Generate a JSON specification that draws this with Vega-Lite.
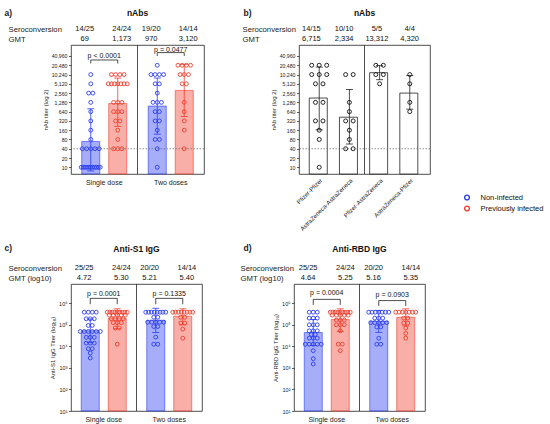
{
  "$schema": "https://vega.github.io/schema/vega-lite/v6.json",
  "padding": {"left": 4, "top": 8, "right": 2, "bottom": 2},
  "datasets": {
    "a_hdr": [
      {"d": "Single dose", "i": "Non-infected", "r": "Seroconversion", "t": "14/25"},
      {"d": "Single dose", "i": "Previously infected", "r": "Seroconversion", "t": "24/24"},
      {"d": "Two doses", "i": "Non-infected", "r": "Seroconversion", "t": "19/20"},
      {"d": "Two doses", "i": "Previously infected", "r": "Seroconversion", "t": "14/14"},
      {"d": "Single dose", "i": "Non-infected", "r": "GMT", "t": "69"},
      {"d": "Single dose", "i": "Previously infected", "r": "GMT", "t": "1,173"},
      {"d": "Two doses", "i": "Non-infected", "r": "GMT", "t": "970"},
      {"d": "Two doses", "i": "Previously infected", "r": "GMT", "t": "3,120"}
    ],
    "a_bar": [
      {"d": "Single dose", "i": "Non-infected", "gmt": 69, "lo": 7.6, "hi": 790},
      {"d": "Single dose", "i": "Previously infected", "gmt": 1173, "lo": 214, "hi": 7880},
      {"d": "Two doses", "i": "Non-infected", "gmt": 970, "lo": 119, "hi": 7900},
      {"d": "Two doses", "i": "Previously infected", "gmt": 3120, "lo": 443, "hi": 22000}
    ],
    "a_p": [
      {"d": "Single dose", "top": 30400, "leg": 23400, "txt": 40960, "p": "p < 0.0001"},
      {"d": "Two doses", "top": 52500, "leg": 40960, "txt": 66500, "p": "p = 0.0477"}
    ],
    "a_pts": [
      {"d": "Single dose", "i": "Non-infected", "v": 10240},
      {"d": "Single dose", "i": "Non-infected", "v": 5120},
      {"d": "Single dose", "i": "Non-infected", "v": 2560},
      {"d": "Single dose", "i": "Non-infected", "v": 2560},
      {"d": "Single dose", "i": "Non-infected", "v": 1280},
      {"d": "Single dose", "i": "Non-infected", "v": 640},
      {"d": "Single dose", "i": "Non-infected", "v": 320},
      {"d": "Single dose", "i": "Non-infected", "v": 160},
      {"d": "Single dose", "i": "Non-infected", "v": 80},
      {"d": "Single dose", "i": "Non-infected", "v": 40},
      {"d": "Single dose", "i": "Non-infected", "v": 40},
      {"d": "Single dose", "i": "Non-infected", "v": 40},
      {"d": "Single dose", "i": "Non-infected", "v": 40},
      {"d": "Single dose", "i": "Non-infected", "v": 40},
      {"d": "Single dose", "i": "Non-infected", "v": 10},
      {"d": "Single dose", "i": "Non-infected", "v": 10},
      {"d": "Single dose", "i": "Non-infected", "v": 10},
      {"d": "Single dose", "i": "Non-infected", "v": 10},
      {"d": "Single dose", "i": "Non-infected", "v": 10},
      {"d": "Single dose", "i": "Non-infected", "v": 10},
      {"d": "Single dose", "i": "Non-infected", "v": 10},
      {"d": "Single dose", "i": "Non-infected", "v": 10},
      {"d": "Single dose", "i": "Non-infected", "v": 10},
      {"d": "Single dose", "i": "Non-infected", "v": 10},
      {"d": "Single dose", "i": "Non-infected", "v": 10},
      {"d": "Single dose", "i": "Previously infected", "v": 10240},
      {"d": "Single dose", "i": "Previously infected", "v": 10240},
      {"d": "Single dose", "i": "Previously infected", "v": 10240},
      {"d": "Single dose", "i": "Previously infected", "v": 10240},
      {"d": "Single dose", "i": "Previously infected", "v": 5120},
      {"d": "Single dose", "i": "Previously infected", "v": 5120},
      {"d": "Single dose", "i": "Previously infected", "v": 5120},
      {"d": "Single dose", "i": "Previously infected", "v": 5120},
      {"d": "Single dose", "i": "Previously infected", "v": 5120},
      {"d": "Single dose", "i": "Previously infected", "v": 5120},
      {"d": "Single dose", "i": "Previously infected", "v": 5120},
      {"d": "Single dose", "i": "Previously infected", "v": 1280},
      {"d": "Single dose", "i": "Previously infected", "v": 1280},
      {"d": "Single dose", "i": "Previously infected", "v": 1280},
      {"d": "Single dose", "i": "Previously infected", "v": 640},
      {"d": "Single dose", "i": "Previously infected", "v": 640},
      {"d": "Single dose", "i": "Previously infected", "v": 640},
      {"d": "Single dose", "i": "Previously infected", "v": 320},
      {"d": "Single dose", "i": "Previously infected", "v": 320},
      {"d": "Single dose", "i": "Previously infected", "v": 160},
      {"d": "Single dose", "i": "Previously infected", "v": 80},
      {"d": "Single dose", "i": "Previously infected", "v": 40},
      {"d": "Single dose", "i": "Previously infected", "v": 40},
      {"d": "Single dose", "i": "Previously infected", "v": 40},
      {"d": "Two doses", "i": "Non-infected", "v": 20480},
      {"d": "Two doses", "i": "Non-infected", "v": 10240},
      {"d": "Two doses", "i": "Non-infected", "v": 10240},
      {"d": "Two doses", "i": "Non-infected", "v": 10240},
      {"d": "Two doses", "i": "Non-infected", "v": 10240},
      {"d": "Two doses", "i": "Non-infected", "v": 5120},
      {"d": "Two doses", "i": "Non-infected", "v": 5120},
      {"d": "Two doses", "i": "Non-infected", "v": 2560},
      {"d": "Two doses", "i": "Non-infected", "v": 1280},
      {"d": "Two doses", "i": "Non-infected", "v": 1280},
      {"d": "Two doses", "i": "Non-infected", "v": 1280},
      {"d": "Two doses", "i": "Non-infected", "v": 640},
      {"d": "Two doses", "i": "Non-infected", "v": 640},
      {"d": "Two doses", "i": "Non-infected", "v": 320},
      {"d": "Two doses", "i": "Non-infected", "v": 320},
      {"d": "Two doses", "i": "Non-infected", "v": 160},
      {"d": "Two doses", "i": "Non-infected", "v": 80},
      {"d": "Two doses", "i": "Non-infected", "v": 80},
      {"d": "Two doses", "i": "Non-infected", "v": 40},
      {"d": "Two doses", "i": "Non-infected", "v": 10},
      {"d": "Two doses", "i": "Previously infected", "v": 20480},
      {"d": "Two doses", "i": "Previously infected", "v": 20480},
      {"d": "Two doses", "i": "Previously infected", "v": 20480},
      {"d": "Two doses", "i": "Previously infected", "v": 20480},
      {"d": "Two doses", "i": "Previously infected", "v": 10240},
      {"d": "Two doses", "i": "Previously infected", "v": 10240},
      {"d": "Two doses", "i": "Previously infected", "v": 10240},
      {"d": "Two doses", "i": "Previously infected", "v": 5120},
      {"d": "Two doses", "i": "Previously infected", "v": 5120},
      {"d": "Two doses", "i": "Previously infected", "v": 1280},
      {"d": "Two doses", "i": "Previously infected", "v": 640},
      {"d": "Two doses", "i": "Previously infected", "v": 320},
      {"d": "Two doses", "i": "Previously infected", "v": 160},
      {"d": "Two doses", "i": "Previously infected", "v": 40}
    ],
    "b_hdr": [
      {"g": "Pfizer-Pfizer", "r": "Seroconversion", "t": "14/15"},
      {"g": "AstraZeneca-AstraZeneca", "r": "Seroconversion", "t": "10/10"},
      {"g": "Pfizer-AstraZeneca", "r": "Seroconversion", "t": "5/5"},
      {"g": "AstraZeneca-Pfizer", "r": "Seroconversion", "t": "4/4"},
      {"g": "Pfizer-Pfizer", "r": "GMT", "t": "6,715"},
      {"g": "AstraZeneca-AstraZeneca", "r": "GMT", "t": "2,334"},
      {"g": "Pfizer-AstraZeneca", "r": "GMT", "t": "13,312"},
      {"g": "AstraZeneca-Pfizer", "r": "GMT", "t": "4,320"}
    ],
    "b_bar": [
      {"g": "Pfizer-Pfizer", "gmt": 1770, "lo": 164, "hi": 17960},
      {"g": "AstraZeneca-AstraZeneca", "gmt": 422, "lo": 57, "hi": 3350},
      {"g": "Pfizer-AstraZeneca", "gmt": 11760, "lo": 6950, "hi": 19900},
      {"g": "AstraZeneca-Pfizer", "gmt": 2560, "lo": 772, "hi": 9560}
    ],
    "b_pts": [
      {"g": "Pfizer-Pfizer", "v": 20480},
      {"g": "Pfizer-Pfizer", "v": 20480},
      {"g": "Pfizer-Pfizer", "v": 20480},
      {"g": "Pfizer-Pfizer", "v": 10240},
      {"g": "Pfizer-Pfizer", "v": 10240},
      {"g": "Pfizer-Pfizer", "v": 10240},
      {"g": "Pfizer-Pfizer", "v": 5120},
      {"g": "Pfizer-Pfizer", "v": 5120},
      {"g": "Pfizer-Pfizer", "v": 1280},
      {"g": "Pfizer-Pfizer", "v": 1280},
      {"g": "Pfizer-Pfizer", "v": 320},
      {"g": "Pfizer-Pfizer", "v": 320},
      {"g": "Pfizer-Pfizer", "v": 160},
      {"g": "Pfizer-Pfizer", "v": 80},
      {"g": "Pfizer-Pfizer", "v": 10},
      {"g": "AstraZeneca-AstraZeneca", "v": 10240},
      {"g": "AstraZeneca-AstraZeneca", "v": 10240},
      {"g": "AstraZeneca-AstraZeneca", "v": 1280},
      {"g": "AstraZeneca-AstraZeneca", "v": 640},
      {"g": "AstraZeneca-AstraZeneca", "v": 320},
      {"g": "AstraZeneca-AstraZeneca", "v": 320},
      {"g": "AstraZeneca-AstraZeneca", "v": 160},
      {"g": "AstraZeneca-AstraZeneca", "v": 80},
      {"g": "AstraZeneca-AstraZeneca", "v": 40},
      {"g": "AstraZeneca-AstraZeneca", "v": 40},
      {"g": "Pfizer-AstraZeneca", "v": 20480},
      {"g": "Pfizer-AstraZeneca", "v": 20480},
      {"g": "Pfizer-AstraZeneca", "v": 10240},
      {"g": "Pfizer-AstraZeneca", "v": 10240},
      {"g": "Pfizer-AstraZeneca", "v": 5120},
      {"g": "AstraZeneca-Pfizer", "v": 10240},
      {"g": "AstraZeneca-Pfizer", "v": 5120},
      {"g": "AstraZeneca-Pfizer", "v": 1280},
      {"g": "AstraZeneca-Pfizer", "v": 640}
    ],
    "c_hdr": [
      {"d": "Single dose", "i": "Non-infected", "r": "Seroconversion", "t": "25/25"},
      {"d": "Single dose", "i": "Previously infected", "r": "Seroconversion", "t": "24/24"},
      {"d": "Two doses", "i": "Non-infected", "r": "Seroconversion", "t": "20/20"},
      {"d": "Two doses", "i": "Previously infected", "r": "Seroconversion", "t": "14/14"},
      {"d": "Single dose", "i": "Non-infected", "r": "GMT (log10)", "t": "4.72"},
      {"d": "Single dose", "i": "Previously infected", "r": "GMT (log10)", "t": "5.30"},
      {"d": "Two doses", "i": "Non-infected", "r": "GMT (log10)", "t": "5.21"},
      {"d": "Two doses", "i": "Previously infected", "r": "GMT (log10)", "t": "5.40"}
    ],
    "c_bar": [
      {"d": "Single dose", "i": "Non-infected", "gmt": 52500, "lo": 14800, "hi": 186000},
      {"d": "Single dose", "i": "Previously infected", "gmt": 199500, "lo": 66100, "hi": 550000},
      {"d": "Two doses", "i": "Non-infected", "gmt": 162200, "lo": 44300, "hi": 589000},
      {"d": "Two doses", "i": "Previously infected", "gmt": 251200, "lo": 100000, "hi": 550000}
    ],
    "c_p": [
      {"d": "Single dose", "top": 1700000, "leg": 900000, "txt": 2610000, "p": "p = 0.0001"},
      {"d": "Two doses", "top": 1700000, "leg": 900000, "txt": 2610000, "p": "p = 0.1335"}
    ],
    "c_pts": [
      {"d": "Single dose", "i": "Non-infected", "v": 385000},
      {"d": "Single dose", "i": "Non-infected", "v": 385000},
      {"d": "Single dose", "i": "Non-infected", "v": 385000},
      {"d": "Single dose", "i": "Non-infected", "v": 385000},
      {"d": "Single dose", "i": "Non-infected", "v": 190500},
      {"d": "Single dose", "i": "Non-infected", "v": 190500},
      {"d": "Single dose", "i": "Non-infected", "v": 190500},
      {"d": "Single dose", "i": "Non-infected", "v": 93300},
      {"d": "Single dose", "i": "Non-infected", "v": 93300},
      {"d": "Single dose", "i": "Non-infected", "v": 49000},
      {"d": "Single dose", "i": "Non-infected", "v": 49000},
      {"d": "Single dose", "i": "Non-infected", "v": 49000},
      {"d": "Single dose", "i": "Non-infected", "v": 49000},
      {"d": "Single dose", "i": "Non-infected", "v": 49000},
      {"d": "Single dose", "i": "Non-infected", "v": 49000},
      {"d": "Single dose", "i": "Non-infected", "v": 26300},
      {"d": "Single dose", "i": "Non-infected", "v": 26300},
      {"d": "Single dose", "i": "Non-infected", "v": 26300},
      {"d": "Single dose", "i": "Non-infected", "v": 14100},
      {"d": "Single dose", "i": "Non-infected", "v": 14100},
      {"d": "Single dose", "i": "Non-infected", "v": 14100},
      {"d": "Single dose", "i": "Non-infected", "v": 7760},
      {"d": "Single dose", "i": "Non-infected", "v": 7760},
      {"d": "Single dose", "i": "Non-infected", "v": 4900},
      {"d": "Single dose", "i": "Non-infected", "v": 2880},
      {"d": "Single dose", "i": "Previously infected", "v": 385000},
      {"d": "Single dose", "i": "Previously infected", "v": 385000},
      {"d": "Single dose", "i": "Previously infected", "v": 385000},
      {"d": "Single dose", "i": "Previously infected", "v": 385000},
      {"d": "Single dose", "i": "Previously infected", "v": 385000},
      {"d": "Single dose", "i": "Previously infected", "v": 385000},
      {"d": "Single dose", "i": "Previously infected", "v": 385000},
      {"d": "Single dose", "i": "Previously infected", "v": 385000},
      {"d": "Single dose", "i": "Previously infected", "v": 385000},
      {"d": "Single dose", "i": "Previously infected", "v": 281800},
      {"d": "Single dose", "i": "Previously infected", "v": 281800},
      {"d": "Single dose", "i": "Previously infected", "v": 281800},
      {"d": "Single dose", "i": "Previously infected", "v": 281800},
      {"d": "Single dose", "i": "Previously infected", "v": 281800},
      {"d": "Single dose", "i": "Previously infected", "v": 190500},
      {"d": "Single dose", "i": "Previously infected", "v": 190500},
      {"d": "Single dose", "i": "Previously infected", "v": 190500},
      {"d": "Single dose", "i": "Previously infected", "v": 190500},
      {"d": "Single dose", "i": "Previously infected", "v": 125900},
      {"d": "Single dose", "i": "Previously infected", "v": 125900},
      {"d": "Single dose", "i": "Previously infected", "v": 125900},
      {"d": "Single dose", "i": "Previously infected", "v": 70800},
      {"d": "Single dose", "i": "Previously infected", "v": 70800},
      {"d": "Single dose", "i": "Previously infected", "v": 12600},
      {"d": "Two doses", "i": "Non-infected", "v": 385000},
      {"d": "Two doses", "i": "Non-infected", "v": 385000},
      {"d": "Two doses", "i": "Non-infected", "v": 385000},
      {"d": "Two doses", "i": "Non-infected", "v": 385000},
      {"d": "Two doses", "i": "Non-infected", "v": 385000},
      {"d": "Two doses", "i": "Non-infected", "v": 385000},
      {"d": "Two doses", "i": "Non-infected", "v": 385000},
      {"d": "Two doses", "i": "Non-infected", "v": 385000},
      {"d": "Two doses", "i": "Non-infected", "v": 223900},
      {"d": "Two doses", "i": "Non-infected", "v": 223900},
      {"d": "Two doses", "i": "Non-infected", "v": 131800},
      {"d": "Two doses", "i": "Non-infected", "v": 131800},
      {"d": "Two doses", "i": "Non-infected", "v": 131800},
      {"d": "Two doses", "i": "Non-infected", "v": 131800},
      {"d": "Two doses", "i": "Non-infected", "v": 131800},
      {"d": "Two doses", "i": "Non-infected", "v": 83200},
      {"d": "Two doses", "i": "Non-infected", "v": 83200},
      {"d": "Two doses", "i": "Non-infected", "v": 26900},
      {"d": "Two doses", "i": "Non-infected", "v": 12600},
      {"d": "Two doses", "i": "Non-infected", "v": 12600},
      {"d": "Two doses", "i": "Previously infected", "v": 385000},
      {"d": "Two doses", "i": "Previously infected", "v": 385000},
      {"d": "Two doses", "i": "Previously infected", "v": 385000},
      {"d": "Two doses", "i": "Previously infected", "v": 385000},
      {"d": "Two doses", "i": "Previously infected", "v": 385000},
      {"d": "Two doses", "i": "Previously infected", "v": 385000},
      {"d": "Two doses", "i": "Previously infected", "v": 385000},
      {"d": "Two doses", "i": "Previously infected", "v": 385000},
      {"d": "Two doses", "i": "Previously infected", "v": 223900},
      {"d": "Two doses", "i": "Previously infected", "v": 223900},
      {"d": "Two doses", "i": "Previously infected", "v": 120200},
      {"d": "Two doses", "i": "Previously infected", "v": 120200},
      {"d": "Two doses", "i": "Previously infected", "v": 63100},
      {"d": "Two doses", "i": "Previously infected", "v": 24000}
    ],
    "d_hdr": [
      {"d": "Single dose", "i": "Non-infected", "r": "Seroconversion", "t": "25/25"},
      {"d": "Single dose", "i": "Previously infected", "r": "Seroconversion", "t": "24/24"},
      {"d": "Two doses", "i": "Non-infected", "r": "Seroconversion", "t": "20/20"},
      {"d": "Two doses", "i": "Previously infected", "r": "Seroconversion", "t": "14/14"},
      {"d": "Single dose", "i": "Non-infected", "r": "GMT (log10)", "t": "4.64"},
      {"d": "Single dose", "i": "Previously infected", "r": "GMT (log10)", "t": "5.25"},
      {"d": "Two doses", "i": "Non-infected", "r": "GMT (log10)", "t": "5.16"},
      {"d": "Two doses", "i": "Previously infected", "r": "GMT (log10)", "t": "5.35"}
    ],
    "d_bar": [
      {"d": "Single dose", "i": "Non-infected", "gmt": 43650, "lo": 11000, "hi": 174000},
      {"d": "Single dose", "i": "Previously infected", "gmt": 177800, "lo": 49000, "hi": 550000},
      {"d": "Two doses", "i": "Non-infected", "gmt": 144500, "lo": 44700, "hi": 468000},
      {"d": "Two doses", "i": "Previously infected", "gmt": 223900, "lo": 89000, "hi": 550000}
    ],
    "d_p": [
      {"d": "Single dose", "top": 1530000, "leg": 834000, "txt": 2900000, "p": "p = 0.0004"},
      {"d": "Two doses", "top": 1320000, "leg": 750000, "txt": 2420000, "p": "p = 0.0903"}
    ],
    "d_pts": [
      {"d": "Single dose", "i": "Non-infected", "v": 385000},
      {"d": "Single dose", "i": "Non-infected", "v": 385000},
      {"d": "Single dose", "i": "Non-infected", "v": 385000},
      {"d": "Single dose", "i": "Non-infected", "v": 204200},
      {"d": "Single dose", "i": "Non-infected", "v": 204200},
      {"d": "Single dose", "i": "Non-infected", "v": 204200},
      {"d": "Single dose", "i": "Non-infected", "v": 100000},
      {"d": "Single dose", "i": "Non-infected", "v": 100000},
      {"d": "Single dose", "i": "Non-infected", "v": 100000},
      {"d": "Single dose", "i": "Non-infected", "v": 52500},
      {"d": "Single dose", "i": "Non-infected", "v": 52500},
      {"d": "Single dose", "i": "Non-infected", "v": 52500},
      {"d": "Single dose", "i": "Non-infected", "v": 35500},
      {"d": "Single dose", "i": "Non-infected", "v": 35500},
      {"d": "Single dose", "i": "Non-infected", "v": 24000},
      {"d": "Single dose", "i": "Non-infected", "v": 24000},
      {"d": "Single dose", "i": "Non-infected", "v": 24000},
      {"d": "Single dose", "i": "Non-infected", "v": 12600},
      {"d": "Single dose", "i": "Non-infected", "v": 12600},
      {"d": "Single dose", "i": "Non-infected", "v": 12600},
      {"d": "Single dose", "i": "Non-infected", "v": 12600},
      {"d": "Single dose", "i": "Non-infected", "v": 12600},
      {"d": "Single dose", "i": "Non-infected", "v": 6310},
      {"d": "Single dose", "i": "Non-infected", "v": 2690},
      {"d": "Single dose", "i": "Non-infected", "v": 1510},
      {"d": "Single dose", "i": "Previously infected", "v": 385000},
      {"d": "Single dose", "i": "Previously infected", "v": 385000},
      {"d": "Single dose", "i": "Previously infected", "v": 385000},
      {"d": "Single dose", "i": "Previously infected", "v": 385000},
      {"d": "Single dose", "i": "Previously infected", "v": 385000},
      {"d": "Single dose", "i": "Previously infected", "v": 385000},
      {"d": "Single dose", "i": "Previously infected", "v": 385000},
      {"d": "Single dose", "i": "Previously infected", "v": 385000},
      {"d": "Single dose", "i": "Previously infected", "v": 385000},
      {"d": "Single dose", "i": "Previously infected", "v": 281800},
      {"d": "Single dose", "i": "Previously infected", "v": 281800},
      {"d": "Single dose", "i": "Previously infected", "v": 281800},
      {"d": "Single dose", "i": "Previously infected", "v": 281800},
      {"d": "Single dose", "i": "Previously infected", "v": 281800},
      {"d": "Single dose", "i": "Previously infected", "v": 166000},
      {"d": "Single dose", "i": "Previously infected", "v": 166000},
      {"d": "Single dose", "i": "Previously infected", "v": 166000},
      {"d": "Single dose", "i": "Previously infected", "v": 100000},
      {"d": "Single dose", "i": "Previously infected", "v": 100000},
      {"d": "Single dose", "i": "Previously infected", "v": 100000},
      {"d": "Single dose", "i": "Previously infected", "v": 52500},
      {"d": "Single dose", "i": "Previously infected", "v": 12600},
      {"d": "Single dose", "i": "Previously infected", "v": 12600},
      {"d": "Single dose", "i": "Previously infected", "v": 6310},
      {"d": "Two doses", "i": "Non-infected", "v": 385000},
      {"d": "Two doses", "i": "Non-infected", "v": 385000},
      {"d": "Two doses", "i": "Non-infected", "v": 385000},
      {"d": "Two doses", "i": "Non-infected", "v": 385000},
      {"d": "Two doses", "i": "Non-infected", "v": 385000},
      {"d": "Two doses", "i": "Non-infected", "v": 385000},
      {"d": "Two doses", "i": "Non-infected", "v": 385000},
      {"d": "Two doses", "i": "Non-infected", "v": 204200},
      {"d": "Two doses", "i": "Non-infected", "v": 204200},
      {"d": "Two doses", "i": "Non-infected", "v": 204200},
      {"d": "Two doses", "i": "Non-infected", "v": 125900},
      {"d": "Two doses", "i": "Non-infected", "v": 125900},
      {"d": "Two doses", "i": "Non-infected", "v": 125900},
      {"d": "Two doses", "i": "Non-infected", "v": 125900},
      {"d": "Two doses", "i": "Non-infected", "v": 125900},
      {"d": "Two doses", "i": "Non-infected", "v": 79400},
      {"d": "Two doses", "i": "Non-infected", "v": 79400},
      {"d": "Two doses", "i": "Non-infected", "v": 24000},
      {"d": "Two doses", "i": "Non-infected", "v": 12600},
      {"d": "Two doses", "i": "Non-infected", "v": 12600},
      {"d": "Two doses", "i": "Previously infected", "v": 385000},
      {"d": "Two doses", "i": "Previously infected", "v": 385000},
      {"d": "Two doses", "i": "Previously infected", "v": 385000},
      {"d": "Two doses", "i": "Previously infected", "v": 385000},
      {"d": "Two doses", "i": "Previously infected", "v": 385000},
      {"d": "Two doses", "i": "Previously infected", "v": 385000},
      {"d": "Two doses", "i": "Previously infected", "v": 385000},
      {"d": "Two doses", "i": "Previously infected", "v": 204200},
      {"d": "Two doses", "i": "Previously infected", "v": 204200},
      {"d": "Two doses", "i": "Previously infected", "v": 120200},
      {"d": "Two doses", "i": "Previously infected", "v": 120200},
      {"d": "Two doses", "i": "Previously infected", "v": 70800},
      {"d": "Two doses", "i": "Previously infected", "v": 39800},
      {"d": "Two doses", "i": "Previously infected", "v": 24000}
    ]
  },
  "vconcat": [
    {
      "hconcat": [
        {
          "vconcat": [
            {
              "width": 133, "height": 20,
              "view": {"stroke": null},
              "title": {"text": "nAbs", "anchor": "middle", "frame": "group", "offset": -9},
              "data": {"name": "a_hdr"},
              "mark": {"type": "text", "fontSize": 7.5, "dx": -1, "baseline": "middle"},
              "encoding": {
                "x": {"field": "d", "type": "nominal", "axis": null, "scale": {"paddingInner": 0, "paddingOuter": 0}},
                "xOffset": {"field": "i", "type": "nominal", "scale": {"paddingInner": 0.333, "paddingOuter": 0.398}},
                "y": {"field": "r", "type": "nominal", "scale": {"domain": ["Seroconversion", "GMT"], "paddingInner": 0, "paddingOuter": 0},
                  "axis": {"title": "a)", "titleAngle": 0, "titleX": -67, "titleY": -12, "titleAlign": "left", "titleBaseline": "middle", "titleFontWeight": "bold", "titleFontSize": 8.5, "labelAlign": "left", "labelPadding": 63, "labelFontSize": 7.7, "ticks": false, "domain": false}},
                "text": {"field": "t"}
              }
            },
            {
              "width": 133, "height": 129,
              "resolve": {"scale": {"xOffset": "independent"}},
              "layer": [
                {
                  "data": {"name": "a_bar"},
                  "mark": {"type": "bar", "filled": false, "fillOpacity": 0.42, "strokeOpacity": 0.75, "strokeWidth": 0.8},
                  "encoding": {
                    "x": {"field": "d", "type": "nominal", "title": null, "scale": {"paddingInner": 0, "paddingOuter": 0}, "axis": {"labelAngle": 0, "labelFontSize": 7, "ticks": false, "domain": false, "labelPadding": 4}},
                    "xOffset": {"field": "i", "type": "nominal", "scale": {"paddingInner": 0.333, "paddingOuter": 0.398}},
                    "y": {"field": "gmt", "type": "quantitative", "title": "nAb titer (log 2)",
                      "scale": {"type": "log", "base": 2, "domain": [6.06, 93190], "nice": false},
                      "axis": {"values": [10, 20, 40, 80, 160, 320, 640, 1280, 2560, 5120, 10240, 20480, 40960], "format": ",d", "labelFontSize": 5.2, "tickSize": 2.5, "tickWidth": 0.7, "labelPadding": 1.5, "titleFontSize": 6, "titlePadding": 3, "domain": false}},
                    "y2": {"datum": 6.06},
                    "fill": {"field": "i", "type": "nominal", "scale": {"domain": ["Non-infected", "Previously infected"], "range": ["#2a3df0", "#f03e2e"]}, "legend": null},
                    "color": {"field": "i", "type": "nominal", "scale": {"domain": ["Non-infected", "Previously infected"], "range": ["#2a3df0", "#f03e2e"]}, "legend": null}
                  }
                },
                {
                  "data": {"name": "a_bar"},
                  "mark": {"type": "rule", "strokeWidth": 0.8},
                  "encoding": {
                    "x": {"field": "d", "type": "nominal"},
                    "xOffset": {"field": "i", "type": "nominal", "scale": {"paddingInner": 0.333, "paddingOuter": 0.398}},
                    "y": {"field": "lo", "type": "quantitative"},
                    "y2": {"field": "hi"},
                    "color": {"field": "i", "type": "nominal", "legend": null}
                  }
                },
                {
                  "data": {"name": "a_bar"},
                  "transform": [{"fold": ["lo", "hi"], "as": ["k", "e"]}],
                  "mark": {"type": "tick", "size": 7, "thickness": 0.8, "opacity": 1},
                  "encoding": {
                    "x": {"field": "d", "type": "nominal"},
                    "xOffset": {"field": "i", "type": "nominal", "scale": {"paddingInner": 0.333, "paddingOuter": 0.398}},
                    "y": {"field": "e", "type": "quantitative"},
                    "fill": {"field": "i", "type": "nominal", "legend": null}
                  }
                },
                {
                  "data": {"name": "a_bar"},
                  "transform": [{"lookup": "d", "from": {"data": {"name": "a_p"}, "key": "d", "fields": ["top", "leg"]}}],
                  "mark": {"type": "rule", "color": "#222", "strokeWidth": 0.8},
                  "encoding": {
                    "x": {"field": "d", "type": "nominal"},
                    "xOffset": {"field": "i", "type": "nominal", "scale": {"paddingInner": 0.333, "paddingOuter": 0.398}},
                    "y": {"field": "top", "type": "quantitative"},
                    "y2": {"field": "leg"}
                  }
                },
                {
                  "data": {"name": "a_p"},
                  "mark": {"type": "tick", "size": 27, "thickness": 0.8, "color": "#222", "opacity": 1},
                  "encoding": {
                    "x": {"field": "d", "type": "nominal"},
                    "y": {"field": "top", "type": "quantitative"}
                  }
                },
                {
                  "data": {"name": "a_p"},
                  "mark": {"type": "text", "fontSize": 7, "baseline": "middle", "color": "#111"},
                  "encoding": {
                    "x": {"field": "d", "type": "nominal"},
                    "y": {"field": "txt", "type": "quantitative"},
                    "text": {"field": "p"}
                  }
                },
                {
                  "data": {"values": [{}]},
                  "mark": {"type": "rule", "color": "#222", "strokeWidth": 0.8},
                  "encoding": {"x": {"datum": "Two doses", "type": "nominal", "bandPosition": 0}}
                },
                {
                  "data": {"values": [{}]},
                  "mark": {"type": "rule", "color": "#666", "strokeWidth": 0.7, "strokeDash": [1.5, 1.5]},
                  "encoding": {"y": {"datum": 40, "type": "quantitative"}}
                },
                {
                  "data": {"name": "a_pts"},
                  "transform": [
                    {"window": [{"op": "row_number", "as": "k"}, {"op": "count", "as": "n"}], "groupby": ["d", "i", "v"], "frame": [null, null]},
                    {"calculate": "(datum.i === 'Non-infected' ? -13.5 : 13.5) + (datum.k - (datum.n + 1) / 2) * (datum.n > 1 ? min(4.2, 19 / (datum.n - 1)) : 0)", "as": "jx"}
                  ],
                  "mark": {"type": "point", "shape": "circle", "filled": false, "size": 15, "strokeWidth": 0.9, "opacity": 1},
                  "encoding": {
                    "x": {"field": "d", "type": "nominal"},
                    "xOffset": {"field": "jx", "type": "quantitative", "scale": {"domain": [-33.25, 33.25], "range": [0, 66.5], "nice": false, "zero": false}},
                    "y": {"field": "v", "type": "quantitative"},
                    "stroke": {"field": "i", "type": "nominal", "scale": {"domain": ["Non-infected", "Previously infected"], "range": ["#2a3df0", "#f03e2e"]}, "legend": null}
                  }
                }
              ]
            }
          ],
          "spacing": 0
        },
        {
          "hconcat": [
            {
              "vconcat": [
                {
                  "width": 131, "height": 20,
                  "view": {"stroke": null},
                  "title": {"text": "nAbs", "anchor": "middle", "frame": "group", "offset": -9},
                  "data": {"name": "b_hdr"},
                  "mark": {"type": "text", "fontSize": 7.5, "dx": -4, "baseline": "middle"},
                  "encoding": {
                    "x": {"field": "g", "type": "nominal", "axis": null, "scale": {"domain": ["Pfizer-Pfizer", "AstraZeneca-AstraZeneca", "Pfizer-AstraZeneca", "AstraZeneca-Pfizer"], "paddingInner": 0, "paddingOuter": 0.17}},
                    "y": {"field": "r", "type": "nominal", "scale": {"domain": ["Seroconversion", "GMT"], "paddingInner": 0, "paddingOuter": 0},
                      "axis": {"title": "b)", "titleAngle": 0, "titleX": -56, "titleY": -12, "titleAlign": "left", "titleBaseline": "middle", "titleFontWeight": "bold", "titleFontSize": 8.5, "labelAlign": "left", "labelPadding": 57, "labelFontSize": 7.7, "ticks": false, "domain": false}},
                    "text": {"field": "t"}
                  }
                },
                {
                  "width": 131, "height": 129,
                  "layer": [
                    {
                      "data": {"name": "b_bar"},
                      "mark": {"type": "bar", "fill": "white", "stroke": "#222", "strokeWidth": 0.8, "width": {"band": 0.66}},
                      "encoding": {
                        "x": {"field": "g", "type": "nominal", "title": null, "scale": {"domain": ["Pfizer-Pfizer", "AstraZeneca-AstraZeneca", "Pfizer-AstraZeneca", "AstraZeneca-Pfizer"], "paddingInner": 0, "paddingOuter": 0.17}, "axis": {"labelAngle": -45, "labelFontSize": 6.1, "ticks": false, "domain": false, "labelPadding": 3}},
                        "y": {"field": "gmt", "type": "quantitative", "title": "nAb titer (log 2)",
                          "scale": {"type": "log", "base": 2, "domain": [6.06, 93190], "nice": false},
                          "axis": {"values": [10, 20, 40, 80, 160, 320, 640, 1280, 2560, 5120, 10240, 20480, 40960], "format": ",d", "labelFontSize": 5.2, "tickSize": 2.5, "tickWidth": 0.7, "labelPadding": 1.5, "titleFontSize": 6, "titlePadding": 3, "domain": false}},
                        "y2": {"datum": 6.06}
                      }
                    },
                    {
                      "data": {"name": "b_bar"},
                      "mark": {"type": "rule", "color": "#222", "strokeWidth": 0.8},
                      "encoding": {
                        "x": {"field": "g", "type": "nominal"},
                        "y": {"field": "lo", "type": "quantitative"},
                        "y2": {"field": "hi"}
                      }
                    },
                    {
                      "data": {"name": "b_bar"},
                      "transform": [{"fold": ["lo", "hi"], "as": ["k", "e"]}],
                      "mark": {"type": "tick", "size": 7, "thickness": 0.8, "color": "#222", "opacity": 1},
                      "encoding": {
                        "x": {"field": "g", "type": "nominal"},
                        "y": {"field": "e", "type": "quantitative"}
                      }
                    },
                    {
                      "data": {"values": [{}]},
                      "mark": {"type": "rule", "color": "#222", "strokeWidth": 0.8},
                      "encoding": {"x": {"datum": "Pfizer-AstraZeneca", "type": "nominal", "bandPosition": 0}}
                    },
                    {
                      "data": {"values": [{}]},
                      "mark": {"type": "rule", "color": "#666", "strokeWidth": 0.7, "strokeDash": [1.5, 1.5]},
                      "encoding": {"y": {"datum": 40, "type": "quantitative"}}
                    },
                    {
                      "data": {"name": "b_pts"},
                      "transform": [
                        {"window": [{"op": "row_number", "as": "k"}, {"op": "count", "as": "n"}], "groupby": ["g", "v"], "frame": [null, null]},
                        {"calculate": "(datum.k - (datum.n + 1) / 2) * 7.5", "as": "jx"}
                      ],
                      "mark": {"type": "point", "shape": "circle", "filled": false, "size": 16, "strokeWidth": 0.9, "color": "#111", "opacity": 1},
                      "encoding": {
                        "x": {"field": "g", "type": "nominal"},
                        "xOffset": {"field": "jx", "type": "quantitative", "scale": {"domain": [-15.09, 15.09], "range": [0, 30.18], "nice": false, "zero": false}},
                        "y": {"field": "v", "type": "quantitative"}
                      }
                    }
                  ]
                }
              ],
              "spacing": 0
            },
            {
              "vconcat": [
                {
                  "width": 6, "height": 168,
                  "view": {"stroke": null},
                  "data": {"values": []},
                  "mark": {"type": "point"}
                },
                {
                  "width": 6, "height": 22,
                  "view": {"stroke": null},
                  "data": {"values": [{"i": "Non-infected"}, {"i": "Previously infected"}]},
                  "mark": {"type": "point", "shape": "circle", "filled": false, "size": 22, "strokeWidth": 1.4, "opacity": 1},
                  "encoding": {
                    "y": {"field": "i", "type": "nominal", "title": null,
                      "scale": {"domain": ["Non-infected", "Previously infected"], "paddingInner": 0, "paddingOuter": 0},
                      "axis": {"orient": "right", "ticks": false, "domain": false, "labelFontSize": 7.5, "labelPadding": 10, "labelAlign": "left", "labelColor": "#111"}},
                    "stroke": {"field": "i", "type": "nominal", "scale": {"domain": ["Non-infected", "Previously infected"], "range": ["#2a3df0", "#f03e2e"]}, "legend": null}
                  }
                }
              ],
              "spacing": 0
            }
          ],
          "spacing": 30
        }
      ],
      "spacing": 37
    },
    {
      "hconcat": [
        {
          "vconcat": [
            {
              "width": 131, "height": 20,
              "view": {"stroke": null},
              "title": {"text": "Anti-S1 IgG", "anchor": "middle", "frame": "group", "offset": -10},
              "data": {"name": "c_hdr"},
              "mark": {"type": "text", "fontSize": 7.5, "dx": -1, "baseline": "middle"},
              "encoding": {
                "x": {"field": "d", "type": "nominal", "axis": null, "scale": {"paddingInner": 0, "paddingOuter": 0}},
                "xOffset": {"field": "i", "type": "nominal", "scale": {"paddingInner": 0.333, "paddingOuter": 0.38}},
                "y": {"field": "r", "type": "nominal", "scale": {"domain": ["Seroconversion", "GMT (log10)"], "paddingInner": 0, "paddingOuter": 0},
                  "axis": {"title": "c)", "titleAngle": 0, "titleX": -67, "titleY": -16, "titleAlign": "left", "titleBaseline": "middle", "titleFontWeight": "bold", "titleFontSize": 8.5, "labelAlign": "left", "labelPadding": 63, "labelFontSize": 7.7, "ticks": false, "domain": false}},
                "text": {"field": "t"}
              }
            },
            {
              "width": 131, "height": 127,
              "resolve": {"scale": {"xOffset": "independent"}},
              "layer": [
                {
                  "data": {"name": "c_bar"},
                  "mark": {"type": "bar", "filled": false, "fillOpacity": 0.42, "strokeOpacity": 0.75, "strokeWidth": 0.8},
                  "encoding": {
                    "x": {"field": "d", "type": "nominal", "title": null, "scale": {"paddingInner": 0, "paddingOuter": 0}, "axis": {"labelAngle": 0, "labelFontSize": 7, "ticks": false, "domain": false, "labelPadding": 4}},
                    "xOffset": {"field": "i", "type": "nominal", "scale": {"paddingInner": 0.333, "paddingOuter": 0.38}},
                    "y": {"field": "gmt", "type": "quantitative", "title": "Anti-S1 IgG Titer (log₁₀)",
                      "scale": {"type": "log", "domain": [10, 7830000], "nice": false},
                      "axis": {"values": [10, 100, 1000, 10000, 100000, 1000000], "labelExpr": "'10' + ['⁰','¹','²','³','⁴','⁵','⁶'][round(log(datum.value) / LN10)]", "labelFontSize": 5.5, "tickSize": 2.5, "tickWidth": 0.7, "labelPadding": 1.5, "titleFontSize": 6, "titlePadding": 3, "domain": false}},
                    "y2": {"datum": 10},
                    "fill": {"field": "i", "type": "nominal", "legend": null},
                    "color": {"field": "i", "type": "nominal", "legend": null}
                  }
                },
                {
                  "data": {"name": "c_bar"},
                  "mark": {"type": "rule", "strokeWidth": 0.8},
                  "encoding": {
                    "x": {"field": "d", "type": "nominal"},
                    "xOffset": {"field": "i", "type": "nominal", "scale": {"paddingInner": 0.333, "paddingOuter": 0.38}},
                    "y": {"field": "lo", "type": "quantitative"},
                    "y2": {"field": "hi"},
                    "color": {"field": "i", "type": "nominal", "legend": null}
                  }
                },
                {
                  "data": {"name": "c_bar"},
                  "transform": [{"fold": ["lo", "hi"], "as": ["k", "e"]}],
                  "mark": {"type": "tick", "size": 7, "thickness": 0.8, "opacity": 1},
                  "encoding": {
                    "x": {"field": "d", "type": "nominal"},
                    "xOffset": {"field": "i", "type": "nominal", "scale": {"paddingInner": 0.333, "paddingOuter": 0.38}},
                    "y": {"field": "e", "type": "quantitative"},
                    "fill": {"field": "i", "type": "nominal", "legend": null}
                  }
                },
                {
                  "data": {"name": "c_bar"},
                  "transform": [{"lookup": "d", "from": {"data": {"name": "c_p"}, "key": "d", "fields": ["top", "leg"]}}],
                  "mark": {"type": "rule", "color": "#222", "strokeWidth": 0.8},
                  "encoding": {
                    "x": {"field": "d", "type": "nominal"},
                    "xOffset": {"field": "i", "type": "nominal", "scale": {"paddingInner": 0.333, "paddingOuter": 0.38}},
                    "y": {"field": "top", "type": "quantitative"},
                    "y2": {"field": "leg"}
                  }
                },
                {
                  "data": {"name": "c_p"},
                  "mark": {"type": "tick", "size": 27, "thickness": 0.8, "color": "#222", "opacity": 1},
                  "encoding": {
                    "x": {"field": "d", "type": "nominal"},
                    "y": {"field": "top", "type": "quantitative"}
                  }
                },
                {
                  "data": {"name": "c_p"},
                  "mark": {"type": "text", "fontSize": 7, "baseline": "middle", "color": "#111"},
                  "encoding": {
                    "x": {"field": "d", "type": "nominal"},
                    "y": {"field": "txt", "type": "quantitative"},
                    "text": {"field": "p"}
                  }
                },
                {
                  "data": {"values": [{}]},
                  "mark": {"type": "rule", "color": "#222", "strokeWidth": 0.8},
                  "encoding": {"x": {"datum": "Two doses", "type": "nominal", "bandPosition": 0}}
                },
                {
                  "data": {"name": "c_pts"},
                  "transform": [
                    {"window": [{"op": "row_number", "as": "k"}, {"op": "count", "as": "n"}], "groupby": ["d", "i", "v"], "frame": [null, null]},
                    {"calculate": "(datum.i === 'Non-infected' ? -13.5 : 13.5) + (datum.k - (datum.n + 1) / 2) * (datum.n > 1 ? min(4, 20 / (datum.n - 1)) : 0)", "as": "jx"}
                  ],
                  "mark": {"type": "point", "shape": "circle", "filled": false, "size": 15, "strokeWidth": 0.9, "opacity": 1},
                  "encoding": {
                    "x": {"field": "d", "type": "nominal"},
                    "xOffset": {"field": "jx", "type": "quantitative", "scale": {"domain": [-32.75, 32.75], "range": [0, 65.5], "nice": false, "zero": false}},
                    "y": {"field": "v", "type": "quantitative"},
                    "stroke": {"field": "i", "type": "nominal", "legend": null}
                  }
                }
              ]
            }
          ],
          "spacing": 0
        },
        {
          "vconcat": [
            {
              "width": 131, "height": 20,
              "view": {"stroke": null},
              "title": {"text": "Anti-RBD IgG", "anchor": "middle", "frame": "group", "offset": -10},
              "data": {"name": "d_hdr"},
              "mark": {"type": "text", "fontSize": 7.5, "dx": 0, "baseline": "middle"},
              "encoding": {
                "x": {"field": "d", "type": "nominal", "axis": null, "scale": {"paddingInner": 0, "paddingOuter": 0}},
                "xOffset": {"field": "i", "type": "nominal", "scale": {"paddingInner": 0.333, "paddingOuter": 0.38}},
                "y": {"field": "r", "type": "nominal", "scale": {"domain": ["Seroconversion", "GMT (log10)"], "paddingInner": 0, "paddingOuter": 0},
                  "axis": {"title": "d)", "titleAngle": 0, "titleX": -51, "titleY": -16, "titleAlign": "left", "titleBaseline": "middle", "titleFontWeight": "bold", "titleFontSize": 8.5, "labelAlign": "left", "labelPadding": 54, "labelFontSize": 7.7, "ticks": false, "domain": false}},
                "text": {"field": "t"}
              }
            },
            {
              "width": 131, "height": 127,
              "resolve": {"scale": {"xOffset": "independent"}},
              "layer": [
                {
                  "data": {"name": "d_bar"},
                  "mark": {"type": "bar", "filled": false, "fillOpacity": 0.42, "strokeOpacity": 0.75, "strokeWidth": 0.8},
                  "encoding": {
                    "x": {"field": "d", "type": "nominal", "title": null, "scale": {"paddingInner": 0, "paddingOuter": 0}, "axis": {"labelAngle": 0, "labelFontSize": 7, "ticks": false, "domain": false, "labelPadding": 4}},
                    "xOffset": {"field": "i", "type": "nominal", "scale": {"paddingInner": 0.333, "paddingOuter": 0.38}},
                    "y": {"field": "gmt", "type": "quantitative", "title": "Anti-RBD IgG Titer (log₁₀)",
                      "scale": {"type": "log", "domain": [10, 7830000], "nice": false},
                      "axis": {"values": [10, 100, 1000, 10000, 100000, 1000000], "labelExpr": "'10' + ['⁰','¹','²','³','⁴','⁵','⁶'][round(log(datum.value) / LN10)]", "labelFontSize": 5.5, "tickSize": 2.5, "tickWidth": 0.7, "labelPadding": 1.5, "titleFontSize": 6, "titlePadding": 3, "domain": false}},
                    "y2": {"datum": 10},
                    "fill": {"field": "i", "type": "nominal", "legend": null},
                    "color": {"field": "i", "type": "nominal", "legend": null}
                  }
                },
                {
                  "data": {"name": "d_bar"},
                  "mark": {"type": "rule", "strokeWidth": 0.8},
                  "encoding": {
                    "x": {"field": "d", "type": "nominal"},
                    "xOffset": {"field": "i", "type": "nominal", "scale": {"paddingInner": 0.333, "paddingOuter": 0.38}},
                    "y": {"field": "lo", "type": "quantitative"},
                    "y2": {"field": "hi"},
                    "color": {"field": "i", "type": "nominal", "legend": null}
                  }
                },
                {
                  "data": {"name": "d_bar"},
                  "transform": [{"fold": ["lo", "hi"], "as": ["k", "e"]}],
                  "mark": {"type": "tick", "size": 7, "thickness": 0.8, "opacity": 1},
                  "encoding": {
                    "x": {"field": "d", "type": "nominal"},
                    "xOffset": {"field": "i", "type": "nominal", "scale": {"paddingInner": 0.333, "paddingOuter": 0.38}},
                    "y": {"field": "e", "type": "quantitative"},
                    "fill": {"field": "i", "type": "nominal", "legend": null}
                  }
                },
                {
                  "data": {"name": "d_bar"},
                  "transform": [{"lookup": "d", "from": {"data": {"name": "d_p"}, "key": "d", "fields": ["top", "leg"]}}],
                  "mark": {"type": "rule", "color": "#222", "strokeWidth": 0.8},
                  "encoding": {
                    "x": {"field": "d", "type": "nominal"},
                    "xOffset": {"field": "i", "type": "nominal", "scale": {"paddingInner": 0.333, "paddingOuter": 0.38}},
                    "y": {"field": "top", "type": "quantitative"},
                    "y2": {"field": "leg"}
                  }
                },
                {
                  "data": {"name": "d_p"},
                  "mark": {"type": "tick", "size": 27, "thickness": 0.8, "color": "#222", "opacity": 1},
                  "encoding": {
                    "x": {"field": "d", "type": "nominal"},
                    "y": {"field": "top", "type": "quantitative"}
                  }
                },
                {
                  "data": {"name": "d_p"},
                  "mark": {"type": "text", "fontSize": 7, "baseline": "middle", "color": "#111"},
                  "encoding": {
                    "x": {"field": "d", "type": "nominal"},
                    "y": {"field": "txt", "type": "quantitative"},
                    "text": {"field": "p"}
                  }
                },
                {
                  "data": {"values": [{}]},
                  "mark": {"type": "rule", "color": "#222", "strokeWidth": 0.8},
                  "encoding": {"x": {"datum": "Two doses", "type": "nominal", "bandPosition": 0}}
                },
                {
                  "data": {"name": "d_pts"},
                  "transform": [
                    {"window": [{"op": "row_number", "as": "k"}, {"op": "count", "as": "n"}], "groupby": ["d", "i", "v"], "frame": [null, null]},
                    {"calculate": "(datum.i === 'Non-infected' ? -13.5 : 13.5) + (datum.k - (datum.n + 1) / 2) * (datum.n > 1 ? min(4, 20 / (datum.n - 1)) : 0)", "as": "jx"}
                  ],
                  "mark": {"type": "point", "shape": "circle", "filled": false, "size": 15, "strokeWidth": 0.9, "opacity": 1},
                  "encoding": {
                    "x": {"field": "d", "type": "nominal"},
                    "xOffset": {"field": "jx", "type": "quantitative", "scale": {"domain": [-32.75, 32.75], "range": [0, 65.5], "nice": false, "zero": false}},
                    "y": {"field": "v", "type": "quantitative"},
                    "stroke": {"field": "i", "type": "nominal", "legend": null}
                  }
                }
              ]
            }
          ],
          "spacing": 0
        }
      ],
      "spacing": 37
    }
  ],
  "spacing": 10,
  "config": {
    "font": "Liberation Sans",
    "view": {"stroke": "#222", "strokeWidth": 0.8},
    "axis": {"grid": false, "labelColor": "#222", "titleColor": "#222", "tickColor": "#222", "titleFontWeight": "normal"},
    "title": {"fontSize": 8.5, "fontWeight": "bold", "color": "#111"},
    "text": {"color": "#111"}
  }
}
